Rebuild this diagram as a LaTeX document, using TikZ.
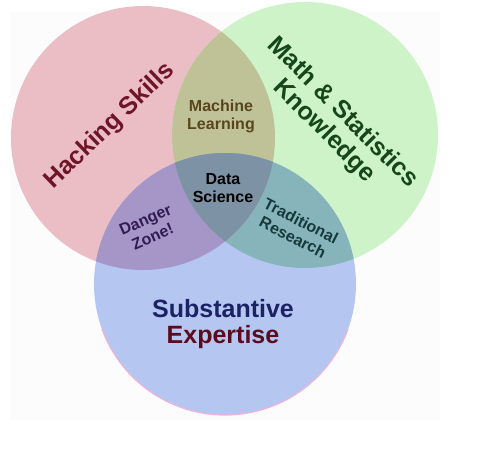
\documentclass[tikz,border=0pt]{standalone}
\usepackage{fontspec}
\setmainfont{Liberation Sans}
\definecolor{hackrot}{RGB}{235,189,197}
\definecolor{mathgruen}{RGB}{206,243,200}
\definecolor{substblau}{RGB}{181,199,241}
\definecolor{randrosa}{RGB}{238,180,215}
\definecolor{mlfarbe}{RGB}{190,194,150}
\definecolor{dangerfarbe}{RGB}{166,150,200}
\definecolor{tradfarbe}{RGB}{135,180,186}
\definecolor{dsfarbe}{RGB}{126,146,165}
\definecolor{hacktext}{RGB}{110,22,40}
\definecolor{mathtext}{RGB}{22,70,26}
\definecolor{substtext}{RGB}{28,34,100}
\definecolor{experttext}{RGB}{92,10,30}
\definecolor{mltext}{RGB}{90,70,30}
\definecolor{dangertext}{RGB}{50,28,82}
\definecolor{tradtext}{RGB}{22,58,60}
\begin{document}
\begin{tikzpicture}[x=1pt,y=-1pt,
  gross/.style={font=\fontsize{25}{26}\selectfont\bfseries, align=center, inner sep=0pt},
  klein/.style={font=\fontsize{16}{18}\selectfont\bfseries, align=center, inner sep=0pt}]
  \useasboundingbox (0,0) rectangle (482,450);
  \fill [black!1] (10,12) rectangle (440,420);
  % Kreise
  \fill [hackrot] (143,138) circle [radius=132pt];
  \fill [mathgruen] (305,135) circle [radius=133pt];
  \fill [substblau] (225,284) circle [radius=131pt];
  \draw [randrosa, line width=1.2pt] (225,284) ++(200:131pt) arc [start angle=200, end angle=340, radius=131pt];
  % Schnittflaechen
  \begin{scope}
    \clip (143,138) circle [radius=132pt];
    \fill [mlfarbe] (305,135) circle [radius=133pt];
    \fill [dangerfarbe] (225,284) circle [radius=131pt];
  \end{scope}
  \begin{scope}
    \clip (305,135) circle [radius=133pt];
    \fill [tradfarbe] (225,284) circle [radius=131pt];
    \clip (143,138) circle [radius=132pt];
    \fill [dsfarbe] (225,284) circle [radius=131pt];
  \end{scope}
  % Beschriftung der Kreise
  \node [gross, text=hacktext, rotate=44] (hack) at (110,126) {Hacking Skills};
  \node [gross, text=mathtext, rotate=-45] (math) at (333,122) {Math \& Statistics\\Knowledge};
  \node [gross, text=experttext] (subst) at (223,324) {\textcolor{substtext}{Substantive}\\Expertise};
  % Schnittmengen
  \node [klein, text=mltext] (ml) at (221,116) {Machine\\Learning};
  \node [klein, text=black] (ds) at (223,188) {Data\\Science};
  \node [klein, text=dangertext, rotate=24] (danger) at (149,228) {Danger\\Zone!};
  \node [klein, text=tradtext, rotate=-27] (trad) at (297,229) {Traditional\\Research};
\end{tikzpicture}
\end{document}
